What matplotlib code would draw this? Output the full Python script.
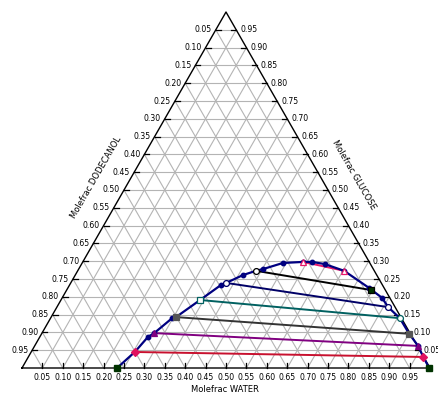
import matplotlib
matplotlib.use("Agg")
import matplotlib.pyplot as plt
import numpy as np
from matplotlib import font_manager

# ---------------- data (mole fractions) ----------------
binodal_water = [0.233, 0.254, 0.265, 0.275, 0.298, 0.306, 0.341, 0.371, 0.381,
                 0.411, 0.437, 0.452, 0.492, 0.540, 0.562, 0.596, 0.653, 0.738,
                 0.784, 0.812, 0.856, 0.901, 0.940, 0.968, 0.998]
binodal_glucose = [0.000, 0.045, 0.087, 0.098, 0.140, 0.143, 0.191, 0.233, 0.239,
                   0.261, 0.273, 0.278, 0.295, 0.298, 0.298, 0.292, 0.273, 0.225,
                   0.197, 0.171, 0.140, 0.096, 0.062, 0.031, 0.000]

tie_left_water = [0.254, 0.275, 0.306, 0.341, 0.381, 0.437, 0.540]
tie_left_glucose = [0.045, 0.098, 0.143, 0.191, 0.239, 0.273, 0.298]
tie_right_water = [0.968, 0.940, 0.901, 0.856, 0.812, 0.746, 0.653]
tie_right_glucose = [0.031, 0.062, 0.096, 0.140, 0.171, 0.219, 0.273]

tick_values = [round(0.05 * i, 2) for i in range(1, 20)]
tick_labels = ["%.2f" % v for v in tick_values]

bottom_title = "Molefrac WATER"
left_title = "Molefrac DODECANOL"
right_title = "Molefrac GLUCOSE"

# ---------------- styles ----------------
tie_line_colors = ["#C8102E", "#800080", "#333333", "#006060", "#000066", "#000000", "#E8176A"]
tie_marker_left = ["D", "^", "s", "s", "o", "o", "^"]
tie_marker_right = ["D", "^", "s", "o", "o", "s", "^"]
tie_face_left = ["#E0115F", "#800080", "#555555", "white", "white", "white", "white"]
tie_face_right = ["#E0115F", "#800080", "#555555", "white", "white", "#003300", "white"]
tie_edge = ["#E0115F", "#800080", "#555555", "#006060", "#000066", "#000000", "#E8176A"]
binodal_color = "#000080"
grid_color = "#b4b4b4"

avail = {f.name for f in font_manager.fontManager.ttflist}
fam = "Liberation Sans Narrow" if "Liberation Sans Narrow" in avail else "DejaVu Sans"
plt.rcParams["font.family"] = [fam, "DejaVu Sans"]


def to_xy(w, g):
    w = np.asarray(w, dtype=float)
    g = np.asarray(g, dtype=float)
    return w + g / 2.0, g


W, H = 439, 394
fig = plt.figure(figsize=(W / 100, H / 100), dpi=100)
ax = fig.add_axes([0, 0, 1, 1])
# pixel mapping: X=0 -> 22px, X=1 -> 430px ; Y=0 -> 368px from top, Y=1 -> 12px
sx, sy = 408.0, 356.0
ax.set_xlim(-22 / sx, (W - 22) / sx)
ax.set_ylim(-(H - 368) / sy, 368 / sy)
ax.axis("off")

# grid
for k in tick_values:
    # constant glucose (horizontal)
    x, y = to_xy([0, 1 - k], [k, k])
    ax.plot(x, y, color=grid_color, lw=0.8, zorder=1)
    # constant water
    x, y = to_xy([k, k], [0, 1 - k])
    ax.plot(x, y, color=grid_color, lw=0.8, zorder=1)
    # constant dodecanol
    x, y = to_xy([1 - k, 0], [0, 1 - k])
    ax.plot(x, y, color=grid_color, lw=0.8, zorder=1)

# triangle border
x, y = to_xy([0, 1, 0, 0], [0, 0, 1, 0])
ax.plot(x, y, color="black", lw=1.0, zorder=2)

# ticks and labels
tl = 5.0 / sx
tlv = 5.0 / sy
for v, lab in zip(tick_values, tick_labels):
    # bottom
    x, y = to_xy(v, 0)
    ax.plot([x, x], [0, tlv], color="black", lw=0.9, zorder=2)
    ax.text(x, -10 / sy, lab, ha="center", va="center", fontsize=5.6)
    # left edge (glucose level v), labelled 1-v
    x, y = to_xy(0, v)
    ax.plot([x, x + tl], [y, y], color="black", lw=0.9, zorder=2)
    ax.text(x - 4 / sx, y, "%.2f" % (1 - v), ha="right", va="center", fontsize=5.6)
    # right edge (glucose level v)
    x, y = to_xy(1 - v, v)
    ax.plot([x - tl, x], [y, y], color="black", lw=0.9, zorder=2)
    ax.text(x + 4 / sx, y, lab, ha="left", va="center", fontsize=5.6)

# axis titles
ax.text(203 / sx, -21 / sy, bottom_title, ha="center", va="center", fontsize=6)
ax.text((96 - 22) / sx, (368 - 177) / sy, left_title, ha="center", va="center",
        fontsize=6, rotation=60)
ax.text((354 - 22) / sx, (368 - 175) / sy, right_title, ha="center", va="center",
        fontsize=6, rotation=-60)

# binodal curve
bx, by = to_xy(binodal_water, binodal_glucose)
ax.plot(bx, by, color=binodal_color, lw=1.6, marker="o", ms=3.2,
        mfc=binodal_color, mec=binodal_color, zorder=4)

# tie lines
for i in range(len(tie_left_water)):
    x, y = to_xy([tie_left_water[i], tie_right_water[i]],
                 [tie_left_glucose[i], tie_right_glucose[i]])
    ax.plot(x, y, color=tie_line_colors[i], lw=1.4, zorder=3)
    ax.plot(x[0], y[0], marker=tie_marker_left[i], ms=4.2, mfc=tie_face_left[i],
            mec=tie_edge[i], mew=0.9, zorder=5, ls="none")
    ax.plot(x[1], y[1], marker=tie_marker_right[i], ms=4.2, mfc=tie_face_right[i],
            mec=tie_edge[i], mew=0.9, zorder=5, ls="none")

# end squares of the binodal
ex, ey = to_xy([binodal_water[0], binodal_water[-1]], [binodal_glucose[0], binodal_glucose[-1]])
ax.plot(ex, ey, ls="none", marker="s", ms=5, mfc="#003300", mec="#003300", zorder=6)

fig.savefig("out.png", dpi=100)
